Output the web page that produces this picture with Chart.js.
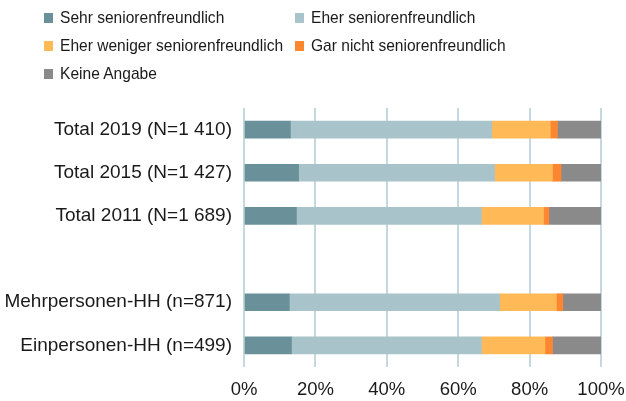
<!DOCTYPE html>
<html>
<head>
<meta charset="utf-8">
<script src="https://cdn.jsdelivr.net/npm/chart.js@4"></script>
<style>
html,body{margin:0;padding:0;background:#fff;}
#wrap{position:relative;width:626px;height:401px;}
#legend{position:absolute;left:0;top:0;width:626px;height:100px;font-family:"Liberation Sans",Arial,sans-serif;font-size:17px;color:#1a1a1a;}
.li{position:absolute;height:20px;}
.sw{position:absolute;left:0;top:5px;width:9px;height:10px;}
.tx{position:absolute;left:16px;top:0;line-height:20px;white-space:nowrap;transform:scaleX(0.915);transform-origin:0 50%;}
</style>
</head>
<body>
<div id="wrap">
<canvas id="c" width="626" height="401"></canvas>
<div id="legend"></div>
</div>
<script>
const categories = ["Total 2019 (N=1 410)", "Total 2015 (N=1 427)", "Total 2011 (N=1 689)", "", "Mehrpersonen-HH (n=871)", "Einpersonen-HH (n=499)"];
const seriesNames = ["Sehr seniorenfreundlich", "Eher seniorenfreundlich", "Eher weniger seniorenfreundlich", "Gar nicht seniorenfreundlich", "Keine Angabe"];
const sehr = [13.0, 15.3, 14.7, null, 12.7, 13.3];
const eher = [56.4, 54.9, 51.8, null, 58.9, 53.2];
const eherWeniger = [16.4, 16.2, 17.4, null, 15.9, 17.8];
const garNicht = [2.0, 2.4, 1.5, null, 1.8, 2.1];
const keineAngabe = [12.2, 11.2, 14.6, null, 10.7, 13.6];
const tickLabels = ["0%", "20%", "40%", "60%", "80%", "100%"];
const colors = ["#6a9199", "#a8c4ca", "#ffb957", "#fd8630", "#8a8a8a"];

const seriesValues = [sehr, eher, eherWeniger, garNicht, keineAngabe];
const FONT = '"Liberation Sans", Arial, sans-serif';

// legend (HTML, two columns)
const legendPos = [[44,18],[295,18],[44,46],[295,46],[44,74]];
const lg = document.getElementById('legend');
seriesNames.forEach((n,i)=>{
  const d=document.createElement('div');
  d.className='li';
  d.style.left=legendPos[i][0]+'px';
  d.style.top=(legendPos[i][1]-10)+'px';
  d.innerHTML='<span class="sw" style="background:'+colors[i]+'"></span><span class="tx">'+n+'</span>';
  lg.appendChild(d);
});

new Chart(document.getElementById('c'), {
  type: 'bar',
  data: {
    labels: categories,
    datasets: seriesNames.map((n,i)=>({
      label: n,
      data: seriesValues[i],
      backgroundColor: colors[i],
      borderWidth: 0,
      barThickness: 17
    }))
  },
  options: {
    indexAxis: 'y',
    responsive: false,
    animation: false,
    devicePixelRatio: 1,
    layout: {padding: {top: 108, right: 25, bottom: 0, left: 0}},
    plugins: {legend: {display: false}, tooltip: {enabled: false}},
    scales: {
      x: {
        stacked: true,
        min: 0, max: 100,
        border: {display: false},
        grid: {color: '#c6d8df', lineWidth: 2, drawTicks: false},
        afterFit: (s)=>{ s.height = 34; s.paddingLeft = 0; s.paddingRight = 0; },
        ticks: {
          stepSize: 20,
          padding: 12,
          maxRotation: 0,
          color: '#1a1a1a',
          font: {family: FONT, size: 18.5},
          callback: (v)=> tickLabels[Math.round(v/20)]
        }
      },
      y: {
        stacked: true,
        border: {display: false},
        grid: {display: false, drawTicks: false},
        afterFit: (s)=>{ s.width = 244; },
        ticks: {
          padding: 12,
          color: '#1a1a1a',
          font: {family: FONT, size: 19}
        }
      }
    }
  }
});
</script>
</body>
</html>
